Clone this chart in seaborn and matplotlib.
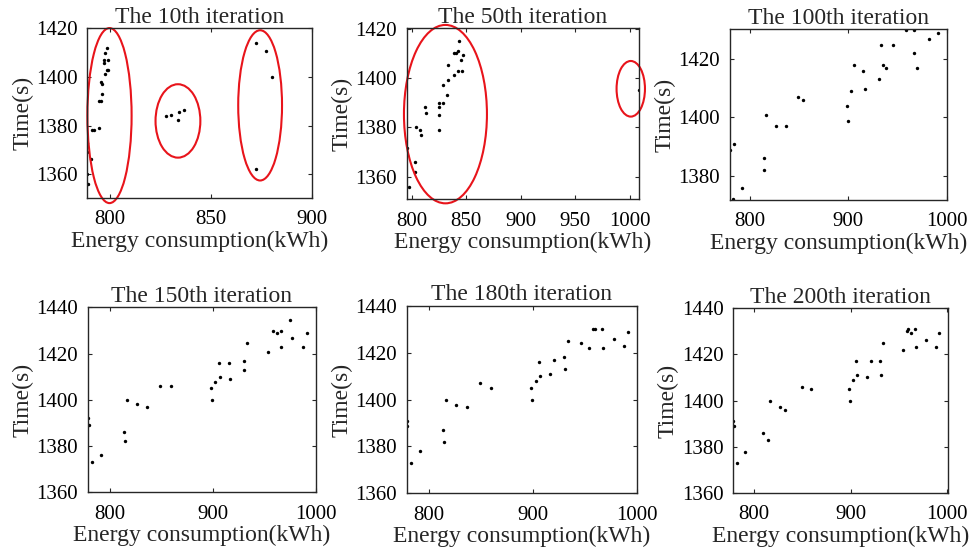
import matplotlib
matplotlib.use('Agg')
import matplotlib.pyplot as plt
import seaborn as sns
from matplotlib.patches import Ellipse

# iteration 10
x10 = [798.4, 797.7, 796.8, 798.8, 797.0, 798.6, 799.1, 797.3, 795.3, 796.1, 796.1, 794.7, 795.5, 794.7, 791.1,
       791.9, 788.7, 788.7, 790.5, 788.7, 789.0, 827.7, 830.3, 834.2, 836.7, 833.5, 872.4, 877.0, 880.3, 872.4]
y10 = [1412.0, 1409.8, 1406.8, 1406.9, 1405.9, 1402.9, 1402.9, 1401.1, 1397.8, 1397.0, 1392.9, 1390.1, 1390.1, 1379.1,
       1378.1, 1378.1, 1372.9, 1369.1, 1366.1, 1360.0, 1356.0, 1383.8, 1384.3, 1385.7, 1386.4, 1382.3, 1413.9, 1410.6,
       1400.1, 1362.0]

# iteration 50
x50 = [843.6, 839.0, 840.5, 842.9, 847.5, 845.4, 833.4, 842.9, 846.6, 838.4, 833.4, 828.6, 832.5, 825.5, 829.2,
       825.5, 825.5, 824.9, 812.0, 813.2, 804.0, 807.7, 809.0, 795.5, 795.8, 803.1, 803.1, 797.9, 1008.4]
y50 = [1415.3, 1410.2, 1410.2, 1411.2, 1409.3, 1407.2, 1405.3, 1403.1, 1403.1, 1401.2, 1399.2, 1397.2, 1393.1, 1390.1,
       1390.1, 1388.1, 1385.1, 1379.1, 1388.1, 1386.0, 1380.1, 1379.0, 1377.0, 1371.8, 1368.8, 1365.9, 1361.8, 1355.9,
       1395.2]

# iteration 100
x100 = [780.4, 784.1, 783.1, 791.9, 814.2, 814.9, 816.3, 826.8, 836.6, 849.2, 854.2, 898.3, 899.3, 902.4, 905.4,
        915.3, 916.9, 930.8, 933.2, 934.9, 938.3, 945.1, 958.6, 966.4, 967.1, 969.5, 981.7, 991.2]
y100 = [1389.0, 1390.8, 1372.0, 1376.0, 1386.0, 1382.0, 1400.8, 1396.9, 1396.9, 1406.8, 1405.8, 1403.8, 1398.9, 1408.9,
        1417.8, 1415.8, 1409.8, 1412.9, 1424.8, 1417.8, 1416.8, 1424.8, 1429.7, 1429.7, 1421.8, 1416.8, 1426.7, 1428.7]

# iteration 150
x150 = [778.6, 779.6, 782.5, 791.6, 813.9, 814.6, 816.2, 826.6, 836.4, 849.0, 858.8, 898.1, 899.4, 902.3, 905.5,
        906.8, 915.3, 916.9, 929.9, 930.5, 933.1, 953.5, 957.8, 962.0, 966.2, 966.5, 975.0, 976.3, 987.0, 990.9]
y150 = [1392.1, 1389.0, 1373.1, 1376.3, 1386.1, 1382.1, 1400.0, 1398.0, 1397.0, 1405.9, 1405.9, 1404.9, 1400.0, 1407.9,
        1415.9, 1409.9, 1415.9, 1408.9, 1416.9, 1412.9, 1424.7, 1420.7, 1429.7, 1428.7, 1429.7, 1422.7, 1434.7, 1426.7,
        1422.7, 1428.7]

# iteration 180
x180 = [778.3, 778.3, 782.1, 791.1, 813.5, 814.5, 816.1, 826.0, 836.3, 849.1, 859.0, 898.1, 899.4, 902.6, 906.1,
        907.1, 916.7, 920.2, 929.8, 931.1, 933.7, 945.9, 953.6, 958.1, 959.4, 966.8, 967.4, 977.6, 987.9, 991.1]
y180 = [1391.0, 1388.9, 1372.9, 1377.9, 1387.0, 1381.9, 1400.0, 1397.9, 1396.9, 1407.0, 1405.0, 1404.9, 1400.0, 1408.0,
        1416.0, 1410.0, 1411.0, 1417.0, 1418.0, 1413.0, 1425.0, 1424.0, 1422.0, 1430.0, 1430.0, 1430.0, 1422.0, 1426.0,
        1423.0, 1429.0]

# iteration 200
x200 = [778.3, 779.0, 782.1, 790.7, 808.6, 814.5, 815.9, 826.2, 831.4, 849.0, 859.3, 897.9, 899.3, 902.4, 905.8,
        906.9, 916.9, 920.7, 930.3, 931.0, 933.4, 953.8, 957.9, 958.9, 962.0, 966.5, 967.5, 977.5, 987.8, 991.3]
y200 = [1391.0, 1389.0, 1372.8, 1377.7, 1385.9, 1382.8, 1400.0, 1397.1, 1396.1, 1406.0, 1405.0, 1405.0, 1400.0, 1409.0,
        1417.0, 1411.1, 1410.0, 1417.0, 1417.0, 1411.1, 1425.0, 1422.0, 1430.1, 1431.2, 1429.1, 1431.2, 1423.0, 1426.1,
        1423.0, 1429.1]

titles = ['The 10th iteration', 'The 50th iteration', 'The 100th iteration',
          'The 150th iteration', 'The 180th iteration', 'The 200th iteration']

# red ellipses marking the clusters: (centre x, centre y, width, height) in data units
ellipses_10 = [(799.7, 1384.1, 21.9, 72.0), (833.6, 1381.9, 22.2, 30.2), (874.3, 1388.3, 21.7, 61.8)]
ellipses_50 = [(831.0, 1385.4, 76.0, 72.5), (1000.7, 1395.7, 26.0, 22.6)]

sns.set_style('ticks')
plt.rcParams['font.family'] = ['Liberation Serif', 'DejaVu Serif']

fig = plt.figure(figsize=(9.72, 5.54), dpi=100)

# axes boxes [left, bottom, width, height] in figure fractions
boxes = [[0.0898, 0.6426, 0.2312, 0.3063],
         [0.4184, 0.6403, 0.2393, 0.3087],
         [0.7510, 0.6390, 0.2236, 0.3081],
         [0.0905, 0.1114, 0.2346, 0.3339],
         [0.4184, 0.1096, 0.2369, 0.3381],
         [0.7544, 0.1106, 0.2212, 0.3329]]

series = [(x10, y10), (x50, y50), (x100, y100), (x150, y150), (x180, y180), (x200, y200)]
xlims = [(788.7, 900), (795.5, 1008.5), (780, 1000.6), (778.6, 1000), (778.3, 1000), (778.3, 1001)]
ylims = [(1350.2, 1420), (1350.8, 1420.3), (1371.8, 1430), (1360, 1440), (1360, 1440), (1360, 1440)]
xticks = [[800, 850, 900], [800, 850, 900, 950, 1000], [800, 900, 1000],
          [800, 900, 1000], [800, 900, 1000], [800, 900, 1000]]
yticks = [[1360, 1380, 1400, 1420], [1360, 1380, 1400, 1420], [1380, 1400, 1420],
          [1360, 1380, 1400, 1420, 1440], [1360, 1380, 1400, 1420, 1440], [1360, 1380, 1400, 1420, 1440]]

axes = []
for i, box in enumerate(boxes):
    ax = fig.add_axes(box)
    xs, ys = series[i]
    sns.scatterplot(x=xs, y=ys, ax=ax, color='black', s=6, linewidth=0, marker='o')
    ax.set_xlim(*xlims[i])
    ax.set_ylim(*ylims[i])
    ax.set_xticks(xticks[i])
    ax.set_yticks(yticks[i])
    ax.tick_params(direction='in', top=True, right=True, length=3, width=0.8,
                   labelsize=15, colors='#262626', labelcolor='black')
    ax.tick_params(axis='x', pad=9)
    ax.tick_params(axis='y', pad=7)
    for sp in ax.spines.values():
        sp.set_color('#262626')
        sp.set_linewidth(1.0)
    ax.set_title(titles[i], fontsize=17, pad=4)
    ax.set_xlabel('Energy consumption(kWh)', fontsize=17, labelpad=1)
    ax.set_ylabel('Time(s)', fontsize=17, labelpad=2)
    axes.append(ax)

for ax, ells in [(axes[0], ellipses_10), (axes[1], ellipses_50)]:
    for cx, cy, w, h in ells:
        ax.add_patch(Ellipse((cx, cy), w, h, fill=False, edgecolor='#e8141b', linewidth=1.5, clip_on=False))

fig.savefig('out.png', dpi=100)
